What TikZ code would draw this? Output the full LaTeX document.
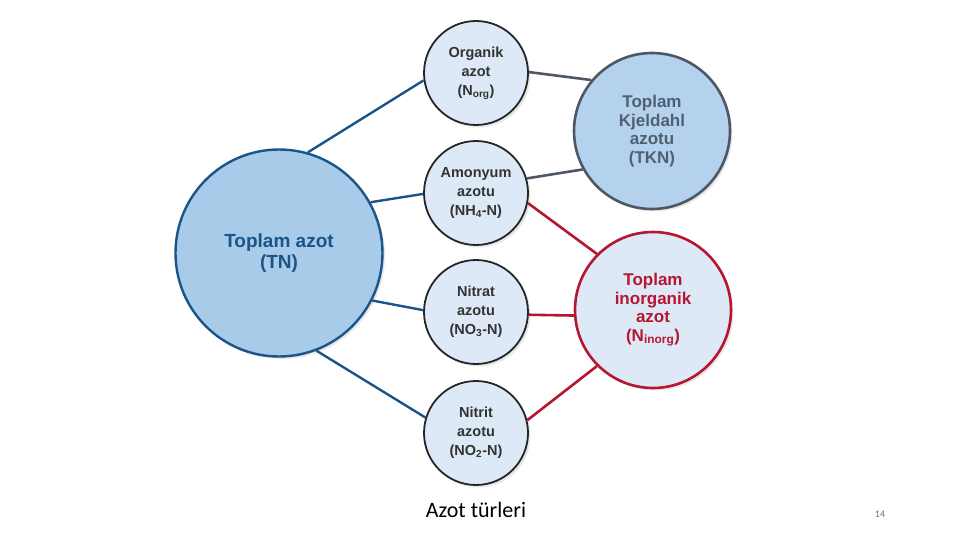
\documentclass[tikz,border=0pt]{standalone}
\usepackage{fontspec}
\setmainfont{Liberation Sans}
\newfontfamily\slidefont{Carlito}
\usepackage{xcolor}
\usepackage{tikz}
\usetikzlibrary{positioning,calc,shadows}
\definecolor{tnblue}{RGB}{26,84,136}
\definecolor{tnfill}{RGB}{169,203,234}
\definecolor{smfill}{RGB}{221,233,246}
\definecolor{tkfill}{RGB}{180,210,237}
\definecolor{tkgray}{RGB}{78,88,100}
\definecolor{tktext}{RGB}{80,96,114}
\definecolor{inred}{RGB}{182,22,48}
\tikzset{
  soft/.style={drop shadow={opacity=0.18, shadow xshift=2.5pt, shadow yshift=-2.5pt}},
  tnode/.style={circle, soft, draw=tnblue, line width=2.4pt, fill=tnfill, minimum size=207pt, inner sep=0pt, font=\bfseries\fontsize{19}{21}\selectfont, text=tnblue, align=center},
  small/.style={circle, soft, draw=black!85, line width=1.8pt, fill=smfill, minimum size=104pt, inner sep=0pt, font=\bfseries\fontsize{14.5}{19}\selectfont, text=black!80, align=center},
  tkn/.style={circle, soft, draw=tkgray, line width=2.6pt, fill=tkfill, minimum size=156pt, inner sep=0pt, font=\bfseries\fontsize{17}{18.5}\selectfont, text=tktext, align=center},
  inorg/.style={circle, soft, draw=inred, line width=2.6pt, fill=smfill, minimum size=156pt, inner sep=0pt, font=\bfseries\fontsize{17}{18.5}\selectfont, text=inred, align=center},
  lblue/.style={tnblue, line width=2.4pt},
  lgray/.style={tkgray, line width=2.6pt},
  lred/.style={inred, line width=2.6pt},
}

\begin{document}
\begin{tikzpicture}[x=1pt,y=-1pt]
  \useasboundingbox (0,0) rectangle (960,540);
  % connectors first, circles on top
  \coordinate (tnc) at (279,253);
  \coordinate (orgc) at (476,73);
  \coordinate (amoc) at (476,193);
  \coordinate (nitratc) at (476,312);
  \coordinate (nitritc) at (476,433);
  \coordinate (tknc) at (652,131);
  \coordinate (inorgc) at (653,310);
  % nodes
  \node[tnode] (tn) at (tnc) {Toplam azot\\(TN)};
  \node[small] (org) at (orgc) {Organik\\azot\\(N\textsubscript{org})};
  \node[small] (amo) at (amoc) {Amonyum\\azotu\\(NH\textsubscript{4}-N)};
  \node[small] (nitrat) at (nitratc) {Nitrat\\azotu\\(NO\textsubscript{3}-N)};
  \node[small] (nitrit) at (nitritc) {Nitrit\\azotu\\(NO\textsubscript{2}-N)};
  \node[tkn] (tkn) at (tknc) {Toplam\\Kjeldahl\\azotu\\(TKN)};
  \node[inorg] (inorg) at (inorgc) {Toplam\\inorganik\\azot\\(N\textsubscript{inorg})};
  % connectors
  \draw[lblue] (tn.74) -- (org.188);
  \draw[lblue] (tn.29) -- (amo.181);
  \draw[lblue] (tn.-27) -- (nitrat.178);
  \draw[lblue] (tn.-69) -- (nitrit.163);
  \draw[lgray] (org.1) -- (tkn.140);
  \draw[lgray] (amo.16) -- (tkn.209);
  \draw[lred] (amo.-11) -- (inorg.135);
  \draw[lred] (nitrat.-3) -- (inorg.184);
  \draw[lred] (nitrit.14) -- (inorg.225);
  % slide caption
  \node[font=\slidefont\fontsize{22}{24}\selectfont] (cap) at (476,510) {Azot türleri};
  \node[font=\slidefont\fontsize{10}{12}\selectfont, text=black!55] (page) at (880,514) {14};
\end{tikzpicture}
\end{document}
